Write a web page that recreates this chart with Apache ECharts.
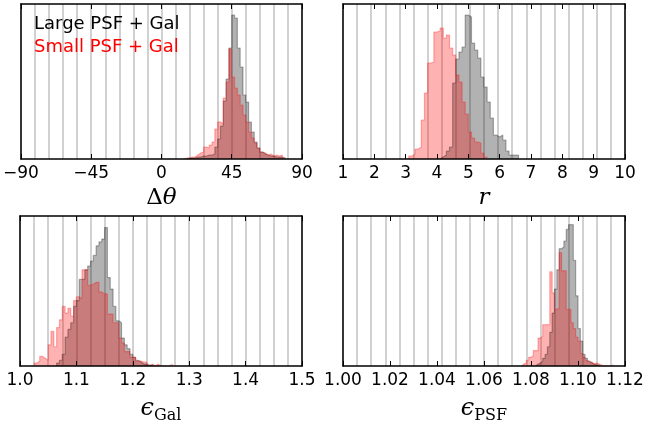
<!DOCTYPE html>
<html lang="en">
<head>
<meta charset="utf-8">
<title>histograms</title>
<script src="https://cdn.jsdelivr.net/npm/echarts@6/dist/echarts.min.js"></script>
<style>
  html, body { margin: 0; padding: 0; background: #fff; }
  #main { width: 647px; height: 425px; }
</style>
</head>
<body>
<div id="main"></div>
<script type="text/javascript">
    // histogram counts, one value per bin
    var dthetaWidth = 1.8;
    var dthetaLargeStart = 16.2;
    var dthetaLarge = [1,1,1,2,2,3,3,4,4,5,12,20,33,58,80,111,144,141,111,92,64,57,37,27,17,11,7,5,4,3,3,2,2,2,1];
    var dthetaSmallStart = 14.4;
    var dthetaSmall = [1,1,2,2,4,6,7,12,11,14,17,30,37,35,61,77,110,82,71,64,54,44,37,27,21,16,11,7,6,4,5,3,4,3,4,1];

    var rWidth = 0.1;
    var rLargeStart = 4.1;
    var rLarge = [2,4,8,12,76,100,107,112,144,142,116,109,101,82,72,57,41,24,22,24,19,8,4,4,4];
    var rSmallStart = 3.1;
    var rSmall = [3,5,10,12,39,66,96,97,127,128,131,121,124,111,104,84,77,57,45,27,21,17,16,6,2];

    var egalWidth = 0.005;
    var egalLargeStart = 1.065;
    var egalLarge = [3,6,12,30,38,45,62,68,90,90,100,104,109,115,125,129,132,144,92,80,62,47,45,29,22,18,12,9,6,4,2,2,1,1];
    var egalSmallStart = 1.025;
    var egalSmall = [3,5,10,8,6,22,36,20,40,48,62,55,60,52,68,72,70,100,100,84,85,87,87,77,75,75,54,54,45,45,29,24,15,15,9,9,5,5,4,4,0,2,0,2,0,0,0,0,2];

    var epsfWidth = 0.001;
    var epsfLargeStart = 1.082;
    var epsfLarge = [2,3,5,8,12,20,35,55,80,100,122,124,130,142,147,147,110,73,39,26,12,8,5,3,2,1,1];
    var epsfSmallStart = 1.076;
    var epsfSmall = [2,3,6,9,11,16,16,29,31,43,43,43,98,76,59,60,118,99,99,59,59,45,39,30,26,13,9,6,4,4,2,3,2,1,0,0,0,0,1];

    // axis ranges and tick labels
    var panels = [
        {min: -90, max: 90, interval: 45, digits: 0, name: '{n|Δ}{i|θ}',
         large: [dthetaLargeStart, dthetaWidth, dthetaLarge], small: [dthetaSmallStart, dthetaWidth, dthetaSmall]},
        {min: 1, max: 10, interval: 1, digits: 0, name: '{i|r}',
         large: [rLargeStart, rWidth, rLarge], small: [rSmallStart, rWidth, rSmall]},
        {min: 1.0, max: 1.5, interval: 0.1, digits: 1, name: '{e|ϵ}{s|Gal}',
         large: [egalLargeStart, egalWidth, egalLarge], small: [egalSmallStart, egalWidth, egalSmall]},
        {min: 1.0, max: 1.12, interval: 0.02, digits: 2, name: '{e|ϵ}{s|PSF}',
         large: [epsfLargeStart, epsfWidth, epsfLarge], small: [epsfSmallStart, epsfWidth, epsfSmall]}
    ];

    var grids = [
        {left: 20, top: 4, width: 282, height: 155},
        {left: 343, top: 4, width: 282, height: 155},
        {left: 20, top: 216, width: 282, height: 156},
        {left: 343, top: 216, width: 282, height: 156}
    ];

    // outline points for a step histogram
    function stepData(start, width, counts) {
        var pts = [[start, 0]];
        for (var i = 0; i < counts.length; i++) {
            pts.push([start + i * width, counts[i]]);
        }
        pts.push([start + counts.length * width, 0]);
        return pts;
    }

    var frame = {show: true, onZero: false, lineStyle: {color: '#000', width: 1.5}};
    var xAxes = [], yAxes = [], series = [];

    panels.forEach(function (p, g) {
        var fmt = function (v) {
            var s = Math.abs(v).toFixed(p.digits);
            return v < 0 ? '\u2212' + s : s;
        };
        xAxes.push({
            gridIndex: g, type: 'value', position: 'bottom',
            min: p.min, max: p.max, interval: p.interval, z: 5,
            axisLine: frame,
            axisTick: {inside: true, length: 5, lineStyle: {color: '#000', width: 1}},
            axisLabel: {formatter: fmt, color: '#000', fontSize: 17, fontFamily: 'DejaVu Sans', margin: 6,
                        showMinLabel: true, showMaxLabel: true},
            splitLine: {show: false},
            name: p.name, nameLocation: 'middle', nameGap: 28,
            nameTextStyle: {
                rich: {
                    n: {fontFamily: 'DejaVu Serif', fontSize: 23, color: '#000'},
                    i: {fontFamily: 'DejaVu Serif', fontStyle: 'italic', fontSize: 23, color: '#000'},
                    e: {fontFamily: 'DejaVu Serif', fontStyle: 'italic', fontSize: 24, color: '#000', lineHeight: 30},
                    s: {fontFamily: 'DejaVu Serif', fontSize: 16, color: '#000', verticalAlign: 'bottom', lineHeight: 30}
                }
            }
        });
        xAxes.push({
            gridIndex: g, type: 'value', position: 'top',
            min: p.min, max: p.max, interval: p.interval, z: 5,
            axisLine: frame,
            axisTick: {inside: true, length: 5, lineStyle: {color: '#000', width: 1}},
            axisLabel: {show: false},
            splitLine: {show: false}
        });
        // 20 light grey vertical guide lines
        xAxes.push({
            gridIndex: g, type: 'value', position: 'bottom',
            min: 0, max: 20, interval: 1,
            axisLine: {show: false}, axisTick: {show: false}, axisLabel: {show: false},
            splitLine: {show: true, lineStyle: {color: '#c2c2c2', width: 1.5}}
        });
        var ymax = grids[g].height;
        yAxes.push({
            gridIndex: g, type: 'value', position: 'left', min: 0, max: ymax, z: 5,
            axisLine: frame, axisTick: {show: false}, axisLabel: {show: false}, splitLine: {show: false}
        });
        yAxes.push({
            gridIndex: g, type: 'value', position: 'right', min: 0, max: ymax, z: 5,
            axisLine: frame, axisTick: {show: false}, axisLabel: {show: false}, splitLine: {show: false}
        });

        [['large', 'rgba(0,0,0,0.3)'], ['small', 'rgba(255,0,0,0.3)']].forEach(function (s) {
            var h = p[s[0]];
            series.push({
                type: 'line', step: 'end', xAxisIndex: g * 3, yAxisIndex: g * 2,
                data: stepData(h[0], h[1], h[2]),
                showSymbol: false, symbol: 'none',
                lineStyle: {color: s[1], width: 1.2},
                areaStyle: {color: s[1], opacity: 1},
                silent: true
            });
        });
    });

    var chart = echarts.init(document.getElementById('main'));
    chart.setOption({
        animation: false,
        backgroundColor: '#fff',
        grid: grids,
        xAxis: xAxes,
        yAxis: yAxes,
        series: series,
        graphic: [
            {type: 'text', left: 34, top: 15, z: 10,
             style: {text: 'Large PSF + Gal', fill: '#000', font: '18px "DejaVu Sans"'}},
            {type: 'text', left: 34, top: 38, z: 10,
             style: {text: 'Small PSF + Gal', fill: '#ff0000', font: '18px "DejaVu Sans"'}}
        ]
    });
</script>
</body>
</html>
